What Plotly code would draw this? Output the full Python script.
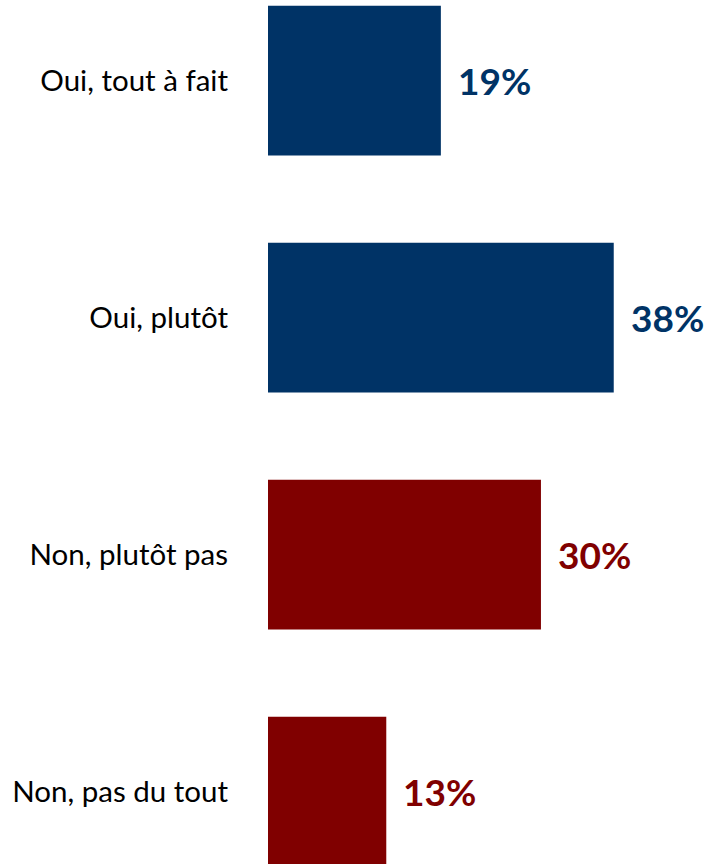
import plotly.graph_objects as go

categories = ["Oui, tout à fait", "Oui, plutôt", "Non, plutôt pas", "Non, pas du tout"]
values = [19, 38, 30, 13]
colors = ["#003366", "#003366", "#800000", "#800000"]

fig = go.Figure()
fig.add_trace(go.Bar(
    x=values, y=categories, orientation="h",
    marker=dict(color=colors, line=dict(width=0)),
    width=0.632,
    hoverinfo="skip",
))

for c, v, col in zip(categories, values, colors):
    fig.add_annotation(
        x=v, y=c, text=f"<b>{v}%</b>", showarrow=False,
        xanchor="left", yanchor="middle", xshift=15,
        font=dict(family="Lato", size=37, color=col),
    )

fig.update_layout(
    width=712, height=864,
    margin=dict(l=268, r=0, t=0, b=0),
    paper_bgcolor="white", plot_bgcolor="white",
    showlegend=False,
    xaxis=dict(range=[0, 48.8], visible=False, fixedrange=True),
    yaxis=dict(
        type="category",
        categoryorder="array", categoryarray=categories,
        range=[3.305, -0.34],
        showgrid=False, zeroline=False, showline=False,
        ticks="", ticklabelstandoff=39,
        tickfont=dict(family="Lato", size=29.5, color="black"),
    ),
)

fig.write_html(
    "out.html",
    config={"displayModeBar": False, "staticPlot": True},
    post_script="document.body.style.margin='0';document.body.style.overflow='hidden';",
)
